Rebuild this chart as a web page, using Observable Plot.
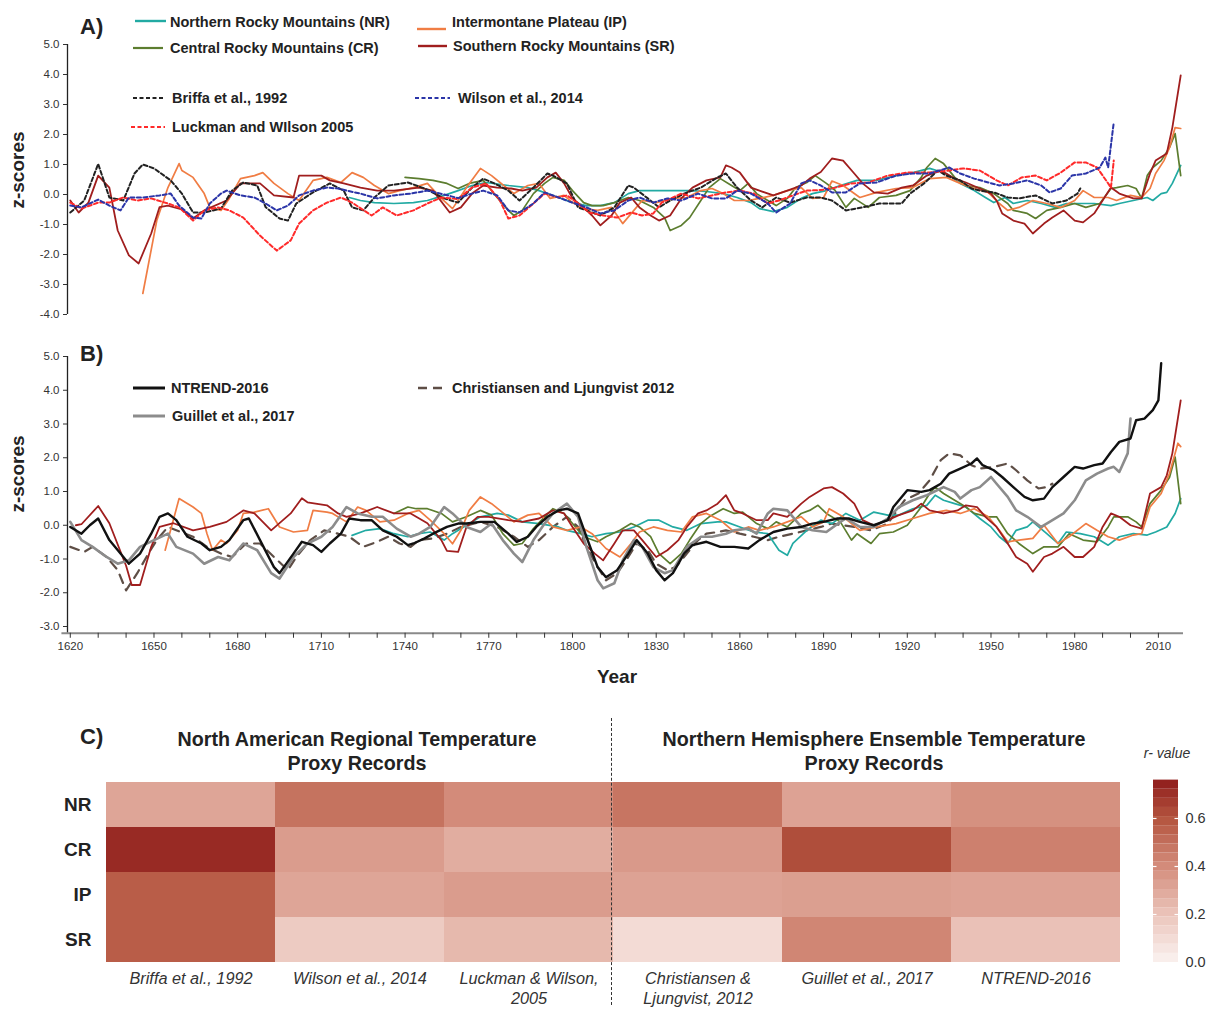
<!DOCTYPE html>
<html><head><meta charset="utf-8">
<script src="https://cdn.jsdelivr.net/npm/d3@7"></script>
<script src="https://cdn.jsdelivr.net/npm/@observablehq/plot@0.6"></script>
<style>
html,body{margin:0;padding:0;background:#fff;}
#root{position:relative;width:1208px;height:1009px;overflow:hidden;font-family:"Liberation Sans",Arial,sans-serif;color:#222;}
.t{position:absolute;white-space:nowrap;line-height:1.15;}
</style></head><body><div id="root"></div><script>
// ---------------- Panel A data (year, z-score) ----------------
const A_NR = [[1720,-0.1],[1724,-0.2],[1729,-0.27],[1736,-0.3],[1743,-0.27],[1748,-0.2],[1754,-0.03],[1759,0.13],[1764,0.3],[1769,0.4],[1777,0.3],[1784,0.23],[1788,0.13],[1795,-0.1],[1800,-0.27],[1805,-0.37],[1810,-0.37],[1815,-0.27],[1820,0.03],[1824,0.13],[1830,0.13],[1836,0.13],[1842,0.13],[1848,0.1],[1854,0.03],[1859,-0.1],[1864,-0.27],[1867,-0.47],[1872,-0.57],[1877,-0.43],[1882,-0.13],[1886,0.03],[1891,0.13],[1896,0.3],[1902,0.47],[1909,0.47],[1916,0.63],[1922,0.73],[1928,0.87],[1934,0.7],[1939,0.37],[1944,0.13],[1948,-0.1],[1951,-0.27],[1955,-0.1],[1958,-0.3],[1963,-0.2],[1968,-0.3],[1973,-0.43],[1977,-0.3],[1982,-0.3],[1987,-0.3],[1993,-0.37],[1996,-0.3],[2001,-0.2],[2006,-0.1],[2008,-0.2],[2011,0.03],[2013,0.07],[2015,0.37],[2018,0.97]];
const A_CR = [[1740,0.57],[1745,0.53],[1750,0.47],[1755,0.37],[1759,0.2],[1763,0.37],[1768,0.47],[1773,-0.1],[1777,-0.53],[1779,-0.7],[1782,-0.53],[1786,0.03],[1790,0.37],[1793,0.57],[1797,0.47],[1800,0.13],[1804,-0.27],[1807,-0.37],[1811,-0.37],[1815,-0.27],[1820,-0.1],[1824,-0.2],[1829,-0.43],[1833,-0.77],[1835,-1.2],[1839,-1.03],[1842,-0.77],[1846,-0.2],[1849,0.23],[1853,0.53],[1857,0.3],[1860,0.13],[1863,0.37],[1866,0.03],[1870,-0.2],[1873,-0.37],[1877,-0.13],[1880,0.23],[1884,0.4],[1887,0.63],[1891,0.37],[1894,0.15],[1898,-0.43],[1901,-0.13],[1906,-0.43],[1910,-0.1],[1916,-0.03],[1921,0.13],[1925,0.57],[1927,0.9],[1930,1.2],[1933,1.03],[1937,0.57],[1941,0.3],[1946,0.23],[1951,0.03],[1956,-0.3],[1958,-0.53],[1963,-0.63],[1966,-0.8],[1970,-0.53],[1975,-0.43],[1980,-0.3],[1984,-0.43],[1989,-0.3],[1993,0.2],[1995,0.23],[1999,0.3],[2002,0.2],[2004,-0.13],[2006,0.63],[2008,0.9],[2011,1.13],[2014,1.57],[2016,2.03],[2018,0.63]];
const A_IP = [[1646,-3.3],[1651,-0.87],[1655,0.23],[1659,1.03],[1660,0.8],[1664,0.57],[1668,0.03],[1670,-0.43],[1674,-0.53],[1677,-0.13],[1681,0.53],[1686,0.63],[1689,0.73],[1693,0.37],[1698,0.03],[1702,-0.2],[1707,0.47],[1712,0.57],[1717,0.4],[1721,0.73],[1725,0.57],[1729,0.3],[1734,0.03],[1738,0.13],[1743,0.23],[1748,0.37],[1753,-0.13],[1757,-0.47],[1762,0.23],[1767,0.87],[1771,0.63],[1774,0.4],[1779,0.03],[1784,0.3],[1788,0.37],[1792,-0.13],[1797,-0.03],[1800,-0.27],[1804,-0.47],[1809,-0.53],[1814,-0.43],[1818,-0.97],[1822,-0.53],[1825,-0.2],[1830,-0.27],[1836,-0.13],[1841,-0.1],[1846,0.13],[1850,0.2],[1854,0.03],[1858,-0.2],[1863,-0.2],[1867,-0.13],[1872,-0.03],[1877,0.13],[1882,0.23],[1886,-0.13],[1890,-0.1],[1893,0.45],[1897,0.3],[1903,-0.1],[1909,0.07],[1916,0.2],[1922,0.23],[1928,0.53],[1934,0.57],[1939,0.37],[1944,0.2],[1949,0.07],[1953,-0.3],[1956,-0.53],[1960,-0.43],[1965,-0.2],[1970,-0.3],[1975,-0.43],[1980,-0.2],[1983,0.13],[1987,-0.1],[1992,-0.1],[1995,-0.2],[2000,-0.03],[2004,-0.1],[2007,0.2],[2009,0.7],[2012,1.13],[2014,1.57],[2016,2.23],[2018,2.2]];
const A_SR = [[1620,-0.2],[1623,-0.6],[1626.5,-0.27],[1630,0.63],[1634,0.23],[1637,-1.2],[1641,-2.03],[1644.5,-2.3],[1649,-1.3],[1652,-0.42],[1655,-0.37],[1660,-0.5],[1664,-0.8],[1668,-0.53],[1676,-0.2],[1681,0.37],[1688,0.37],[1693,-0.03],[1700,-0.1],[1702,0.63],[1710,0.63],[1713,0.47],[1718,0.37],[1724,0.23],[1730,0.13],[1736,0.13],[1745,0.23],[1750,0.13],[1756,-0.6],[1760,-0.43],[1764,0.03],[1768,0.3],[1773,0.23],[1778,0.2],[1782,0.13],[1787,0.23],[1791,0.57],[1794,0.73],[1797,0.37],[1800,-0.13],[1804,-0.43],[1807,-0.7],[1810,-1.03],[1814,-0.7],[1817,-0.27],[1821,-0.1],[1824,-0.43],[1828,-0.7],[1831,-0.87],[1835,-0.7],[1839,-0.13],[1843,0.23],[1848,0.47],[1853,0.57],[1855,0.97],[1857,0.9],[1860,0.73],[1864,0.23],[1867,0.13],[1872,-0.03],[1877,0.13],[1882,0.3],[1885,0.53],[1889,0.75],[1893,1.2],[1897,1.13],[1901,0.7],[1904,0.37],[1908,0.07],[1913,0.03],[1918,0.23],[1922,0.3],[1927,0.63],[1932,0.8],[1937,0.53],[1941,0.4],[1946,0.2],[1950,0.03],[1952,-0.2],[1954,-0.63],[1958,-0.87],[1962,-0.97],[1965,-1.3],[1969,-0.97],[1972,-0.77],[1976,-0.53],[1980,-0.87],[1983,-0.93],[1987,-0.63],[1990,-0.2],[1993,0.23],[1996,0.03],[2001,-0.13],[2004,-0.13],[2007,0.7],[2009,1.13],[2013,1.37],[2015,2.23],[2018,3.97]];
const A_Briffa = [[1620,-0.6],[1625,-0.2],[1630,1.02],[1634,-0.1],[1639,-0.2],[1643,0.7],[1646,1.0],[1650,0.87],[1656,0.47],[1660,0.03],[1664,-0.6],[1668,-0.6],[1674,-0.47],[1678,0.13],[1682,0.4],[1687,0.3],[1690,-0.42],[1695,-0.8],[1698,-0.87],[1701,-0.3],[1707,0.07],[1713,0.37],[1718,0.13],[1721,-0.43],[1725,-0.53],[1729,-0.1],[1734,0.3],[1741,0.4],[1747,0.2],[1754,-0.13],[1759,-0.27],[1764,0.23],[1768,0.53],[1772,0.37],[1777,0.13],[1781,-0.2],[1786,0.23],[1791,0.7],[1793,0.63],[1798,0.37],[1802,-0.43],[1805,-0.53],[1810,-0.7],[1815,-0.43],[1820,0.3],[1822,0.23],[1827,-0.13],[1831,-0.43],[1835,-0.2],[1840,0.03],[1846,0.23],[1852,0.57],[1855,0.7],[1859,0.23],[1864,-0.2],[1868,-0.43],[1873,-0.1],[1878,-0.27],[1884,-0.1],[1889,-0.1],[1893,-0.2],[1898,-0.53],[1904,-0.43],[1910,-0.3],[1918,-0.3],[1921,0.03],[1926,0.37],[1931,0.8],[1934,0.63],[1939,0.47],[1943,0.2],[1946,0.13],[1951,0.07],[1956,-0.1],[1960,-0.13],[1966,-0.03],[1972,-0.3],[1977,-0.2],[1981,0.03],[1982,0.2]];
const A_Wilson = [[1620,-0.37],[1624,-0.43],[1630,-0.17],[1634,-0.37],[1638,-0.53],[1641,-0.1],[1646,-0.1],[1652,-0.03],[1656,0.03],[1659,-0.37],[1664,-0.77],[1667,-0.8],[1670,-0.3],[1674,0.03],[1676,0.13],[1681,-0.03],[1686,-0.1],[1690,-0.3],[1694,-0.53],[1698,-0.37],[1702,-0.03],[1707,0.13],[1712,0.23],[1716,0.2],[1719,0.13],[1724,0.03],[1730,-0.13],[1736,-0.03],[1742,0.03],[1748,0.13],[1754,0.0],[1759,-0.12],[1764,0.03],[1768,0.13],[1773,-0.03],[1777,-0.53],[1781,-0.6],[1786,-0.3],[1790,0.07],[1795,-0.1],[1800,-0.27],[1805,-0.43],[1810,-0.63],[1815,-0.53],[1820,-0.2],[1824,-0.1],[1829,-0.27],[1834,-0.13],[1839,-0.2],[1845,0.03],[1850,-0.13],[1855,-0.13],[1859,0.13],[1864,0.03],[1870,-0.3],[1873,-0.6],[1878,-0.3],[1882,0.37],[1885,0.47],[1889,0.3],[1893,0.07],[1898,0.07],[1903,0.37],[1909,0.4],[1916,0.63],[1922,0.7],[1928,0.7],[1935,0.9],[1939,0.7],[1944,0.53],[1949,0.4],[1953,0.3],[1958,0.37],[1963,0.47],[1968,0.3],[1971,0.07],[1975,0.2],[1979,0.63],[1984,0.7],[1989,0.9],[1991,1.23],[1992,0.9],[1994,2.4]];
const A_Luckman = [[1620,-0.27],[1624,-0.47],[1630,-0.27],[1634,-0.27],[1639,-0.1],[1644,-0.2],[1649,-0.13],[1655,-0.3],[1659,-0.43],[1664,-0.87],[1668,-0.53],[1673,-0.43],[1677,-0.53],[1682,-0.77],[1688,-1.37],[1694,-1.87],[1699,-1.53],[1702,-0.97],[1707,-0.53],[1712,-0.27],[1717,-0.1],[1721,-0.27],[1728,-0.7],[1732,-0.43],[1737,-0.7],[1743,-0.53],[1748,-0.3],[1753,-0.1],[1759,-0.15],[1764,0.23],[1769,0.37],[1774,-0.2],[1777,-0.8],[1781,-0.7],[1786,-0.3],[1790,0.03],[1795,-0.1],[1798,-0.03],[1802,-0.3],[1806,-0.6],[1811,-0.7],[1816,-0.77],[1821,-0.6],[1825,-0.7],[1829,-0.63],[1832,-0.27],[1839,0.03],[1845,-0.13],[1850,-0.03],[1855,0.07],[1860,0.13],[1865,0.03],[1870,-0.3],[1874,-0.2],[1879,-0.03],[1884,0.13],[1889,0.15],[1893,0.2],[1900,0.37],[1906,0.4],[1913,0.63],[1920,0.73],[1928,0.73],[1935,0.8],[1940,0.87],[1946,0.8],[1952,0.47],[1956,0.3],[1961,0.57],[1966,0.63],[1970,0.47],[1975,0.73],[1980,1.07],[1984,1.07],[1988,0.9],[1992,0.37],[1993,0.23],[1994,1.13]];

// ---------------- Panel B data (year, z-score) ----------------
const B_NR = [[1721,-0.3],[1726,-0.15],[1731,-0.1],[1736,-0.25],[1741,-0.34],[1745,-0.25],[1749,-0.2],[1754,-0.44],[1757,-0.25],[1762,0.0],[1767,0.25],[1773,0.35],[1777,0.3],[1782,0.1],[1788,0.05],[1795,-0.05],[1798,-0.15],[1803,-0.25],[1807,-0.34],[1812,-0.25],[1817,-0.2],[1822,-0.05],[1827,0.15],[1831,0.15],[1836,-0.05],[1841,-0.15],[1846,0.05],[1852,0.1],[1855,0.1],[1860,-0.05],[1865,-0.2],[1870,-0.25],[1874,-0.74],[1877,-0.89],[1879,-0.54],[1884,-0.15],[1889,0.15],[1893,0.05],[1898,0.35],[1903,0.15],[1908,0.39],[1913,0.3],[1917,0.3],[1922,0.49],[1927,0.59],[1930,0.89],[1933,0.74],[1937,0.64],[1941,0.54],[1946,0.2],[1950,-0.05],[1953,-0.34],[1956,-0.54],[1959,-0.15],[1963,-0.05],[1965,0.1],[1970,-0.25],[1974,-0.54],[1977,-0.2],[1982,-0.25],[1987,-0.34],[1992,-0.59],[1996,-0.34],[2001,-0.25],[2006,-0.29],[2009,-0.2],[2013,-0.05],[2016,0.35],[2018,0.79]];
const B_CR = [[1736,0.35],[1741,0.54],[1744,0.49],[1748,0.49],[1753,0.35],[1757,0.1],[1762,0.25],[1767,0.44],[1771,0.3],[1775,-0.25],[1779,-0.59],[1782,-0.54],[1786,-0.1],[1790,0.25],[1793,0.49],[1797,0.35],[1800,0.05],[1804,-0.34],[1809,-0.49],[1812,-0.34],[1817,-0.15],[1821,0.05],[1824,-0.05],[1828,-0.34],[1831,-0.84],[1835,-1.14],[1839,-0.84],[1842,-0.44],[1846,0.05],[1849,0.25],[1854,0.49],[1858,0.35],[1861,0.39],[1866,0.05],[1870,-0.1],[1873,0.1],[1877,-0.05],[1882,0.35],[1885,0.44],[1888,0.59],[1891,0.35],[1896,0.1],[1900,-0.44],[1902,-0.25],[1907,-0.54],[1910,-0.25],[1915,-0.2],[1920,0.0],[1925,0.54],[1928,0.94],[1930,1.13],[1933,0.94],[1937,0.74],[1941,0.54],[1944,0.35],[1949,0.25],[1952,0.25],[1956,-0.25],[1960,-0.54],[1965,-0.84],[1969,-0.64],[1974,-0.64],[1978,-0.25],[1983,-0.44],[1988,-0.49],[1992,-0.05],[1994,0.25],[1999,0.25],[2002,0.1],[2004,-0.05],[2007,0.64],[2011,1.04],[2014,1.42],[2016,2.02],[2018,0.64]];
const B_IP = [[1654,-0.74],[1659,0.79],[1664,0.54],[1667,0.35],[1669,-0.25],[1671,-0.74],[1674,-0.44],[1676,-0.54],[1680,-0.15],[1682,0.35],[1686,0.39],[1691,0.49],[1695,-0.05],[1700,-0.2],[1705,-0.15],[1707,0.44],[1712,0.39],[1714,0.35],[1719,0.1],[1723,0.54],[1726,0.44],[1731,0.1],[1736,0.15],[1741,0.35],[1745,0.44],[1749,0.15],[1754,-0.25],[1757,-0.55],[1760,-0.15],[1763,0.44],[1767,0.84],[1771,0.64],[1774,0.44],[1779,0.1],[1784,0.3],[1788,0.35],[1793,-0.05],[1798,-0.15],[1803,-0.05],[1807,-0.25],[1812,-0.69],[1817,-0.94],[1821,-0.54],[1824,-0.2],[1829,-0.05],[1834,-0.15],[1839,-0.2],[1843,0.25],[1848,0.35],[1853,0.15],[1858,-0.2],[1863,-0.05],[1867,-0.15],[1872,-0.05],[1877,0.1],[1882,0.25],[1886,-0.05],[1890,0.1],[1892,0.49],[1897,0.25],[1903,-0.15],[1909,-0.05],[1916,0.05],[1922,0.2],[1928,0.35],[1934,0.44],[1939,0.35],[1944,0.49],[1949,0.25],[1953,-0.15],[1956,-0.49],[1960,-0.44],[1965,-0.39],[1969,0.0],[1974,-0.54],[1978,-0.34],[1984,0.05],[1988,-0.15],[1992,-0.34],[1996,-0.44],[2001,-0.29],[2004,-0.25],[2007,0.54],[2011,0.94],[2014,1.54],[2017,2.43],[2018,2.33]];
const B_SR = [[1622,0.0],[1624,0.03],[1630,0.57],[1634,0.06],[1640,-1.2],[1642,-1.77],[1645,-1.77],[1649,-0.64],[1652,-0.05],[1657,0.06],[1664,-0.15],[1670,-0.05],[1676,0.1],[1682,0.44],[1686,0.35],[1692,-0.15],[1699,0.35],[1703,0.8],[1705,0.68],[1712,0.59],[1716,0.35],[1719,0.25],[1724,0.35],[1730,0.54],[1736,0.35],[1742,0.35],[1748,0.06],[1753,-0.44],[1755,-0.76],[1759,-0.79],[1762,-0.05],[1766,0.25],[1770,0.25],[1777,0.15],[1782,0.1],[1788,0.2],[1793,0.44],[1797,0.35],[1800,-0.05],[1804,-0.54],[1808,-0.84],[1811,-1.04],[1815,-0.54],[1818,-0.15],[1822,-0.15],[1825,-0.44],[1830,-0.94],[1834,-0.74],[1838,-0.44],[1841,-0.05],[1845,0.35],[1848,0.44],[1852,0.64],[1855,0.89],[1858,0.44],[1861,0.35],[1866,0.15],[1870,0.15],[1872,0.35],[1877,0.25],[1882,0.64],[1885,0.84],[1890,1.09],[1893,1.13],[1897,0.94],[1901,0.64],[1904,0.15],[1908,0.0],[1913,0.15],[1917,0.3],[1922,0.44],[1925,0.64],[1928,0.44],[1933,0.35],[1938,0.44],[1941,0.59],[1945,0.54],[1948,0.25],[1952,-0.05],[1956,-0.54],[1959,-0.94],[1963,-1.14],[1965,-1.38],[1969,-0.94],[1972,-0.84],[1976,-0.64],[1980,-0.94],[1983,-0.94],[1987,-0.64],[1990,-0.05],[1993,0.35],[1996,0.25],[2000,0.0],[2004,-0.1],[2007,0.94],[2011,1.13],[2013,1.48],[2015,2.13],[2018,3.7]];
const B_NTREND = [[1620,-0.05],[1624,-0.25],[1627,0.0],[1630,0.2],[1634,-0.44],[1638,-0.84],[1641,-1.14],[1645,-0.84],[1649,-0.25],[1652,0.25],[1655,0.35],[1658,0.15],[1662,-0.34],[1667,-0.54],[1670,-0.74],[1674,-0.64],[1677,-0.44],[1682,0.15],[1684,0.2],[1688,-0.44],[1693,-1.24],[1695,-1.42],[1700,-0.84],[1703,-0.49],[1707,-0.59],[1710,-0.79],[1713,-0.54],[1717,-0.25],[1720,0.2],[1724,0.15],[1728,0.15],[1732,-0.15],[1737,-0.34],[1741,-0.59],[1743,-0.54],[1747,-0.39],[1750,-0.25],[1755,-0.05],[1759,0.05],[1762,0.05],[1767,0.1],[1772,0.1],[1777,-0.25],[1780,-0.49],[1784,-0.34],[1787,-0.05],[1791,0.25],[1795,0.44],[1798,0.49],[1802,0.35],[1805,-0.34],[1809,-1.24],[1812,-1.54],[1816,-1.33],[1820,-0.84],[1823,-0.44],[1827,-0.84],[1830,-1.33],[1833,-1.63],[1836,-1.42],[1840,-0.84],[1843,-0.59],[1848,-0.49],[1853,-0.64],[1858,-0.64],[1863,-0.69],[1867,-0.44],[1872,-0.2],[1877,-0.1],[1882,-0.05],[1886,0.05],[1891,0.12],[1895,0.2],[1899,0.2],[1903,0.1],[1908,0.0],[1913,0.15],[1915,0.54],[1920,1.04],[1925,0.99],[1928,1.04],[1932,1.23],[1935,1.53],[1939,1.68],[1943,1.83],[1945,1.98],[1947,1.78],[1951,1.63],[1954,1.43],[1958,1.13],[1962,0.84],[1965,0.74],[1969,0.79],[1972,1.13],[1976,1.43],[1980,1.73],[1983,1.68],[1987,1.78],[1990,1.83],[1993,2.17],[1996,2.47],[2000,2.57],[2002,3.11],[2005,3.16],[2008,3.41],[2010,3.7],[2011,4.8]];
const B_Guillet = [[1620,0.1],[1624,-0.44],[1628,-0.64],[1633,-0.94],[1637,-1.14],[1641,-1.04],[1645,-0.64],[1650,-0.44],[1655,-0.25],[1658,-0.64],[1664,-0.84],[1668,-1.14],[1673,-0.94],[1677,-1.04],[1682,-0.54],[1687,-0.74],[1692,-1.42],[1695,-1.58],[1700,-0.94],[1705,-0.54],[1710,-0.34],[1714,-0.05],[1719,0.54],[1723,0.35],[1728,0.25],[1732,0.25],[1737,-0.1],[1742,-0.34],[1745,-0.25],[1749,-0.05],[1754,0.54],[1757,0.35],[1762,-0.05],[1767,-0.2],[1771,0.05],[1775,-0.44],[1779,-0.84],[1782,-1.09],[1786,-0.44],[1790,0.05],[1793,0.35],[1798,0.64],[1802,0.25],[1805,-0.64],[1809,-1.63],[1811,-1.87],[1815,-1.72],[1818,-1.04],[1822,-0.44],[1825,-0.64],[1829,-1.24],[1833,-1.42],[1836,-1.33],[1841,-0.64],[1846,-0.34],[1850,-0.34],[1855,-0.25],[1858,-0.15],[1863,-0.1],[1866,-0.25],[1870,0.35],[1872,0.49],[1877,0.44],[1882,-0.05],[1886,-0.15],[1891,-0.2],[1896,0.1],[1898,0.2],[1903,-0.05],[1908,-0.05],[1913,0.2],[1917,0.54],[1922,0.74],[1927,0.89],[1933,1.13],[1937,0.99],[1939,0.79],[1943,1.04],[1946,1.13],[1950,1.43],[1952,1.23],[1956,0.84],[1959,0.44],[1963,0.25],[1968,-0.05],[1971,0.1],[1976,0.35],[1980,0.74],[1984,1.33],[1988,1.53],[1992,1.68],[1994,1.73],[1996,1.58],[1999,2.13],[2000,3.16]];
const B_Christiansen = [[1620,-0.64],[1625,-0.79],[1628,-0.64],[1633,-0.94],[1637,-1.33],[1640,-1.93],[1644,-1.42],[1648,-0.84],[1651,-0.44],[1655,-0.05],[1658,-0.15],[1664,-0.34],[1669,-0.64],[1674,-0.84],[1678,-0.94],[1683,-0.54],[1688,-0.54],[1693,-0.94],[1698,-1.33],[1701,-0.94],[1706,-0.44],[1711,-0.15],[1716,-0.25],[1720,-0.34],[1725,-0.64],[1730,-0.49],[1734,-0.34],[1738,-0.54],[1742,-0.64],[1745,-0.44],[1750,-0.39],[1755,-0.25],[1760,-0.05],[1767,0.1],[1773,-0.05],[1779,-0.34],[1784,-0.64],[1788,-0.44],[1793,-0.05],[1798,0.25],[1802,-0.05],[1805,-0.64],[1809,-1.24],[1812,-1.63],[1816,-1.42],[1820,-0.94],[1823,-0.54],[1827,-0.74],[1830,-1.14],[1834,-1.33],[1837,-1.24],[1841,-0.84],[1845,-0.44],[1848,-0.25],[1852,-0.2],[1855,-0.15],[1860,-0.25],[1865,-0.34],[1870,-0.44],[1874,-0.34],[1879,-0.25],[1884,-0.15],[1889,-0.05],[1893,0.05],[1901,-0.05],[1907,-0.15],[1913,0.05],[1919,0.74],[1924,0.94],[1928,1.33],[1932,1.93],[1935,2.13],[1939,2.07],[1943,1.78],[1946,1.68],[1951,1.73],[1956,1.83],[1959,1.63],[1963,1.33],[1967,1.09],[1970,1.13],[1972,1.23]];

// ---------------- Panel C data ----------------
const regions = ["NR","CR","IP","SR"];
const records = ["Briffa et al., 1992","Wilson et al., 2014","Luckman & Wilson,\n2005","Christiansen &\nLjungvist, 2012","Guillet et al., 2017","NTREND-2016"];
const r_NR = [0.31,0.49,0.40,0.48,0.32,0.38];
const r_CR = [0.72,0.34,0.28,0.35,0.62,0.44];
const r_IP = [0.57,0.31,0.34,0.32,0.33,0.32];
const r_SR = [0.57,0.17,0.24,0.10,0.42,0.21];
const yTicksA = [-4,-3,-2,-1,0,1,2,3,4,5];
const yTicksB = [-3,-2,-1,0,1,2,3,4,5];
const legendTicks = [0,0.2,0.4,0.6];

// ---------------- styles ----------------
const COL = {NR:"#22aaa3", CR:"#5c7d2f", IP:"#f07d44", SR:"#a01e1e",
  Briffa:"#222222", Wilson:"#2b35a8", Luckman:"#ff2a2a",
  NTREND:"#111111", Guillet:"#8c8c8c", Christ:"#5e4e46"};

const root = document.getElementById("root");
const X = d => d[0], Y = d => d[1];
function place(svg, left, top){ svg.style.position="absolute"; svg.style.left=left+"px"; svg.style.top=top+"px"; root.appendChild(svg); }
const baseStyle = {background:"transparent", color:"#333", fontFamily:"'Liberation Sans Narrow','Liberation Sans',Arial,sans-serif", overflow:"visible"};

function ln(data, stroke, w, dash){ return Plot.line(data,{x:X,y:Y,stroke,strokeWidth:w,strokeDasharray:dash,strokeLinejoin:"round"}); }

// ---------------- Panel A ----------------
const svgA = Plot.plot({
  width:1208, height:330, marginLeft:67, marginRight:25, marginTop:44, marginBottom:16,
  style: baseStyle,
  x:{domain:[1619,2019], axis:null},
  y:{domain:[-4,5], axis:null},
  marks:[
    Plot.ruleX([1619],{y1:-4,y2:5,stroke:"#222",strokeWidth:1.3}),
    Plot.axisY({ticks:yTicksA, tickFormat:d=>d.toFixed(1), tickSize:4, tickPadding:4, fontSize:11.5, label:null}),
    ln(A_NR,COL.NR,1.7), ln(A_CR,COL.CR,1.7), ln(A_IP,COL.IP,1.7), ln(A_SR,COL.SR,1.8),
    ln(A_Briffa,COL.Briffa,2,"4,2.5"), ln(A_Luckman,COL.Luckman,2,"4,2.5"), ln(A_Wilson,COL.Wilson,2,"4,2.5")
  ]
});
place(svgA,0,0);

// ---------------- Panel B ----------------
const svgB = Plot.plot({
  width:1208, height:370, marginLeft:67, marginRight:25, marginTop:26, marginBottom:67.25,
  style: baseStyle,
  x:{domain:[1619,2019], axis:null},
  y:{domain:[-3.2,5], axis:null},
  marks:[
    Plot.ruleX([1619],{y1:-3.2,y2:5,stroke:"#222",strokeWidth:1.3}),
    Plot.ruleY([-3.2],{x1:1617,x2:2019,stroke:"#8a8a8a",strokeWidth:2}),
    Plot.axisY({ticks:yTicksB, tickFormat:d=>d.toFixed(1), tickSize:4, tickPadding:4, fontSize:11.5, label:null}),
    Plot.axisX({ticks:d3.range(1620,2020,10), tickFormat:d=>d%30===0?String(d):"", tickSize:5, tickPadding:4, fontSize:11.5, label:null}),
    ln(B_Christiansen,COL.Christ,2.2,"9,7"),
    ln(B_NR,COL.NR,1.7), ln(B_CR,COL.CR,1.7), ln(B_IP,COL.IP,1.7), ln(B_SR,COL.SR,1.8),
    ln(B_Guillet,COL.Guillet,2.6), ln(B_NTREND,COL.NTREND,2.4)
  ]
});
place(svgB,0,330);

// ---------------- Panel C heatmap ----------------
const cells = [];
[r_NR,r_CR,r_IP,r_SR].forEach((arr,i)=>arr.forEach((v,j)=>cells.push({region:regions[i],record:records[j],r:v})));
const colorScale = {type:"linear", domain:[0,0.2,0.4,0.6,0.76], range:["#fbf2f0","#ebc4ba","#d38b7a","#b4553f","#8e1b1b"], interpolate:"rgb"};

const svgC = Plot.plot({
  width:1208, height:309, marginLeft:103, marginRight:86, marginTop:80, marginBottom:46,
  style: {...baseStyle, fontFamily:"'Liberation Sans',Arial,sans-serif"},
  x:{domain:records, padding:0, axis:null},
  y:{domain:regions, padding:0, axis:null},
  color: colorScale,
  marks:[
    Plot.cell(cells,{x:"record",y:"region",fill:"r"}),
    Plot.text(regions,{y:d=>d, frameAnchor:"left", dx:-12, textAnchor:"end", fontWeight:"bold", fontSize:19, fill:"#222"}),
    Plot.text(records,{x:d=>d, frameAnchor:"bottom", lineAnchor:"top", dy:6, fontStyle:"italic", fontSize:16.3, lineHeight:1.25, fill:"#333"})
  ]
});
place(svgC,0,700);

// color legend
const step = 0.038;
const bins = d3.range(0,0.76-1e-9,step);
const svgL = Plot.plot({
  width:68, height:210, marginLeft:13, marginRight:30, marginTop:9.6, marginBottom:18,
  style: {...baseStyle, fontFamily:"'Liberation Sans',Arial,sans-serif"},
  x:{domain:[0,1], axis:null},
  y:{domain:[0,0.76], axis:null},
  color: colorScale,
  marks:[
    Plot.rect(bins,{x1:0,x2:1,y1:d=>d,y2:d=>Math.min(0.76,d+step),fill:d=>d+step/2}),
    Plot.ruleY(legendTicks.slice(1),{x1:0,x2:0.14,stroke:"white",strokeWidth:1.2}),
    Plot.ruleY(legendTicks.slice(1),{x1:0.86,x2:1,stroke:"white",strokeWidth:1.2}),
    Plot.axisY({anchor:"right", ticks:legendTicks, tickFormat:d=>d.toFixed(1), tickSize:0, tickPadding:7, fontSize:14.5, label:null})
  ]
});
place(svgL,1140,770);

// ---------------- texts & legends ----------------
function txt(s, x, y, o={}){
  const d=document.createElement("div"); d.className="t"; d.textContent=s;
  d.style.left=x+"px"; d.style.top=y+"px";
  d.style.fontSize=(o.size||14.5)+"px"; d.style.fontWeight=o.weight||"bold";
  if(o.italic) d.style.fontStyle="italic";
  if(o.color) d.style.color=o.color;
  const ax = o.anchor==="middle"?"-50%":(o.anchor==="end"?"-100%":"0");
  d.style.transform=`translate(${ax},-50%)`+(o.rotate?` rotate(${o.rotate}deg)`:"");
  root.appendChild(d); return d;
}
function sample(x1,x2,y,color,w,dash){
  const ns="http://www.w3.org/2000/svg";
  const s=document.createElementNS(ns,"svg");
  s.setAttribute("width",x2-x1); s.setAttribute("height",10);
  s.style.position="absolute"; s.style.left=x1+"px"; s.style.top=(y-5)+"px";
  const l=document.createElementNS(ns,"line");
  l.setAttribute("x1",0); l.setAttribute("x2",x2-x1); l.setAttribute("y1",5); l.setAttribute("y2",5);
  l.setAttribute("stroke",color); l.setAttribute("stroke-width",w);
  if(dash) l.setAttribute("stroke-dasharray",dash);
  s.appendChild(l); root.appendChild(s);
}

// panel A
txt("A)",80,27,{size:22});
sample(135,166,21,COL.NR,2.4); txt("Northern Rocky Mountains (NR)",170,22);
sample(417,446,29,COL.IP,2.4); txt("Intermontane Plateau (IP)",452,22);
sample(133,163,48,COL.CR,2.2); txt("Central Rocky Mountains (CR)",170,48);
sample(418,447,46,COL.SR,2.4); txt("Southern Rocky Mountains (SR)",453,46);
sample(133,165,98,COL.Briffa,2,"4,2.5"); txt("Briffa et al., 1992",172,98);
sample(415,450,98,COL.Wilson,2,"4,2.5"); txt("Wilson et al., 2014",458,98);
sample(131,165,127,COL.Luckman,2,"4,2.5"); txt("Luckman and WIlson 2005",172,127);
txt("z-scores",18,170,{size:19,anchor:"middle",rotate:-90});

// panel B
txt("B)",80,354,{size:22});
sample(133,165,388,COL.NTREND,3); txt("NTREND-2016",171,388);
sample(418,446,388,COL.Christ,2.6,"9,6"); txt("Christiansen and Ljungvist 2012",452,388);
sample(133,165,416,COL.Guillet,3); txt("Guillet et al., 2017",172,416);
txt("z-scores",18,474,{size:19,anchor:"middle",rotate:-90});
txt("Year",617,677,{size:19,anchor:"middle"});

// panel C
txt("C)",80,737,{size:22});
txt("North American Regional Temperature",357,739,{size:19.7,anchor:"middle"});
txt("Proxy Records",357,763,{size:19.7,anchor:"middle"});
txt("Northern Hemisphere Ensemble Temperature",874,739,{size:19.7,anchor:"middle"});
txt("Proxy Records",874,763,{size:19.7,anchor:"middle"});
txt("r- value",1167,753,{size:14,weight:"normal",italic:true,anchor:"middle",color:"#333"});
const dv=document.createElement("div");
dv.style.cssText="position:absolute;left:611px;top:718px;height:287px;border-left:1.5px dashed #333;";
root.appendChild(dv);
</script></body></html>
